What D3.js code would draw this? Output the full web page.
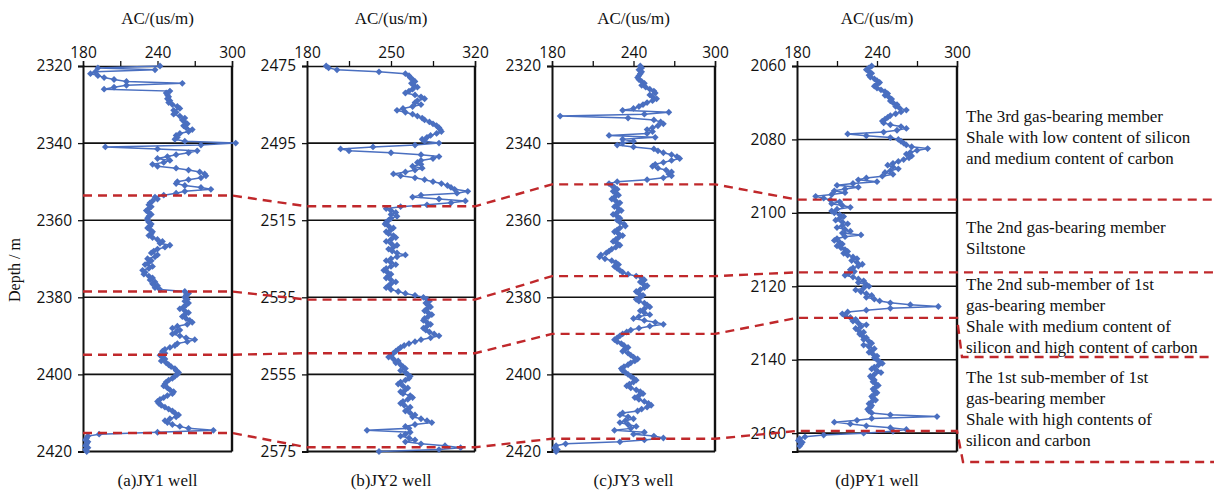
<!DOCTYPE html>
<html><head><meta charset="utf-8">
<script src="https://cdn.jsdelivr.net/npm/d3@7"></script>
<style>html,body{margin:0;padding:0;background:#fff;} svg{display:block}</style>
</head><body><svg id="chart" width="1214" height="491"></svg>
<script>
// ---------------- DATA ----------------
const xTitle = "AC/(us/m)";
const yTitle = "Depth / m";
const wellLabels = ["(a)JY1 well", "(b)JY2 well", "(c)JY3 well", "(d)PY1 well"];
const acDomains = [[180, 300], [180, 320], [180, 300], [180, 300]];
const acTicks = [[180, 210, 240, 270, 300], [180, 215, 250, 285, 320], [180, 210, 240, 270, 300], [180, 210, 240, 270, 300]];
const acTickLabels = [[180, 240, 300], [180, 250, 320], [180, 240, 300], [180, 240, 300]];
const depthDomains = [[2320, 2420], [2475, 2575], [2320, 2420], [2060, 2165]];
const depthTicks = [
  [2320, 2340, 2360, 2380, 2400, 2420],
  [2475, 2495, 2515, 2535, 2555, 2575],
  [2320, 2340, 2360, 2380, 2400, 2420],
  [2060, 2080, 2100, 2120, 2140, 2160]
];
const depthStart = [2320, 2475, 2320, 2060];
const depthStep = 0.5;

const jy1AC = [
 242,192,238,190,186,192,197,205,215,260,215,205,197,250,247,248,249,248,250,249,
 252,256,258,253,255,253,258,262,260,262,264,261,263,268,265,258,255,256,254,262,
 303,275,198,240,272,265,255,248,240,250,245,236,240,255,265,274,278,279,275,265,
 256,255,262,275,283,262,255,245,238,240,236,234,233,235,233,231,233,235,233,232,
 232,233,235,234,232,234,236,235,233,236,240,244,242,250,246,240,237,235,240,238,
 232,235,233,230,236,233,228,230,229,233,236,234,238,236,240,238,242,262,265,263,
 262,264,262,265,263,261,258,262,265,262,260,263,266,268,264,256,252,258,255,252,
 258,263,270,264,256,254,250,246,244,246,242,244,246,243,247,249,251,254,255,257,
 256,254,252,249,247,246,245,248,250,253,252,248,245,242,240,241,243,246,249,252,
 254,257,255,250,246,248,252,258,265,285,240,193,184,183,182,184,183,182,184,182,
 183
];
const jy2AC = [
 196,198,205,240,262,265,266,268,270,267,269,272,268,265,262,270,275,278,272,270,
 275,268,260,255,262,268,272,276,278,282,285,288,290,291,292,288,283,280,276,278,
 290,270,235,208,215,250,275,290,285,275,272,275,268,276,270,262,252,258,270,278,
 285,292,297,300,303,314,305,275,268,290,312,300,280,258,246,250,254,250,255,250,
 248,246,245,248,252,250,246,248,252,254,250,246,250,255,252,248,251,255,262,255,
 250,246,250,254,250,246,244,247,250,248,246,250,254,250,248,246,250,256,262,270,
 277,280,282,279,281,283,280,278,281,284,281,278,277,280,283,280,277,279,282,286,
 290,283,275,270,265,261,258,256,254,252,250,248,252,256,254,258,260,262,258,262,
 264,266,265,262,258,256,260,264,262,258,260,266,268,264,260,258,261,266,264,262,
 266,270,268,275,280,284,270,262,265,230,266,262,258,265,270,262,275,295,308,290,
 240
];
const jy3AC = [
 245,246,244,246,245,244,243,244,246,248,246,249,252,255,256,252,254,257,254,250,
 247,244,240,232,266,248,186,236,255,260,262,258,254,250,254,250,222,256,232,240,
 232,228,240,255,258,262,268,272,274,268,262,256,254,258,264,268,266,268,262,250,
 228,222,224,226,228,225,227,229,226,224,227,230,228,226,229,231,228,225,228,230,
 228,230,233,234,230,228,226,229,232,229,227,225,228,230,227,224,222,220,216,215,
 219,224,227,229,226,228,230,232,236,242,246,248,245,247,250,248,245,242,244,247,
 245,242,244,248,250,252,248,245,248,252,244,240,248,256,262,252,244,238,235,232,
 230,228,226,228,231,233,236,234,232,236,238,240,243,241,238,236,233,231,232,234,
 236,238,240,242,240,237,235,238,242,245,247,244,241,244,248,251,253,250,246,243,
 232,230,236,240,234,230,236,242,238,226,248,240,255,262,248,230,190,183,182,184,
 183
];
const py1AC = [
 236,234,232,234,236,234,235,238,240,242,240,238,240,243,246,248,246,249,251,250,
 252,255,254,257,262,258,254,250,248,246,244,245,250,258,262,255,245,218,232,250,
 256,258,260,262,266,278,270,265,262,266,264,260,256,252,248,252,256,250,246,252,
 244,232,226,240,222,210,226,216,208,216,206,194,200,205,212,206,214,220,210,206,
 208,212,215,212,209,214,218,214,210,216,220,214,228,216,210,208,212,214,210,213,
 216,218,215,218,222,225,221,225,229,226,222,220,223,219,216,222,226,230,226,232,
 234,230,224,228,232,236,232,238,242,250,265,286,250,232,218,214,216,220,224,222,
 226,232,228,224,226,230,227,229,232,230,234,236,230,234,238,236,234,237,240,238,
 240,242,244,241,238,236,240,243,238,235,236,238,237,239,241,239,237,238,240,238,
 236,237,239,236,234,236,235,233,234,236,250,285,236,225,208,220,232,250,262,252,
 230,200,186,182,181,184,183,182
];
const wellAC = [jy1AC, jy2AC, jy3AC, py1AC];

// formation boundary depths in each well
const boundJY1 = [2353.6, 2378.5, 2394.9, 2415.2];
const boundJY2 = [2511.4, 2535.6, 2549.5, 2573.9];
const boundJY3 = [2350.7, 2374.5, 2389.5, 2416.7];
const boundPY1 = [2096.4, 2116.2, 2128.6, 2159.4];
const wellBounds = [boundJY1, boundJY2, boundJY3, boundPY1];

const memberTexts = [
  ["The 3rd gas-bearing member", "Shale with low content of silicon", "and medium content of carbon"],
  ["The 2nd gas-bearing member", "Siltstone"],
  ["The 2nd sub-member of 1st", "gas-bearing member", "Shale with medium content of", "silicon and high content of carbon"],
  ["The 1st sub-member of 1st", "gas-bearing member", "Shale with high contents of", "silicon and carbon"]
];

// ---------------- LAYOUT ----------------
const W = 1214, H = 491;
const panelX = [[83, 232], [307, 475], [552, 715], [797, 957]];
const plotTop = 66, plotBottom = 451.5;
const blue = "#4A6FC0", red = "#C0282B";
const serif = "'Liberation Serif','Times New Roman',serif";
const sans = "'Open Sans','Liberation Sans',sans-serif";
const textBaselines = [[122, 143, 164], [233, 253.5], [289.5, 310.5, 331.5, 352.5], [382.5, 403.5, 424.5, 445.5]];

const svg = d3.select("#chart");
svg.append("rect").attr("width", W).attr("height", H).attr("fill", "#fff");

const scales = panelX.map((px, i) => ({
  x: d3.scaleLinear().domain(acDomains[i]).range(px),
  y: d3.scaleLinear().domain(depthDomains[i]).range([plotTop, plotBottom])
}));

const diamond = "M0,-3.4L3.4,0L0,3.4L-3.4,0Z";

panelX.forEach((px, i) => {
  const {x, y} = scales[i];
  const g = svg.append("g");

  // horizontal grid lines
  g.selectAll(".grid").data(depthTicks[i].filter(t => t > depthDomains[i][0] && t < depthDomains[i][1]))
    .join("line")
    .attr("x1", px[0]).attr("x2", px[1])
    .attr("y1", d => y(d)).attr("y2", d => y(d))
    .attr("stroke", "#111").attr("stroke-width", 1.6);

  // top axis
  const top = d3.axisTop(x).tickValues(acTicks[i]).tickSize(5).tickPadding(2)
    .tickFormat(d => acTickLabels[i].includes(d) ? d : "");
  const ga = g.append("g").attr("transform", `translate(0,${plotTop})`).call(top);
  ga.select(".domain").attr("stroke", "#111").attr("stroke-width", 1.5);
  ga.selectAll(".tick line").attr("stroke", "#111").attr("stroke-width", 1.3);
  ga.selectAll(".tick text").attr("font-family", sans).attr("font-size", 15.5).attr("fill", "#111")
    .attr("y", -8);

  // left axis
  const left = d3.axisLeft(y).tickValues(depthTicks[i]).tickSize(5).tickPadding(6).tickFormat(d3.format("d"));
  const gl = g.append("g").attr("transform", `translate(${px[0]},0)`).call(left);
  gl.select(".domain").attr("stroke", "#111").attr("stroke-width", 2);
  gl.selectAll(".tick line").attr("stroke", "#111").attr("stroke-width", 1.3);
  gl.selectAll(".tick text").attr("font-family", sans).attr("font-size", 15.5).attr("fill", "#111");

  // right and bottom border
  g.append("line").attr("x1", px[1]).attr("x2", px[1]).attr("y1", plotTop).attr("y2", plotBottom)
    .attr("stroke", "#111").attr("stroke-width", 2.4);
  g.append("line").attr("x1", px[0]).attr("x2", px[1]).attr("y1", plotBottom).attr("y2", plotBottom)
    .attr("stroke", "#111").attr("stroke-width", 2);

  // titles
  g.append("text").attr("x", (px[0] + px[1]) / 2).attr("y", 24).attr("text-anchor", "middle")
    .attr("font-family", serif).attr("font-size", 17).attr("fill", "#111").text(xTitle);
  g.append("text").attr("x", (px[0] + px[1]) / 2).attr("y", 486).attr("text-anchor", "middle")
    .attr("font-family", serif).attr("font-size", 17).attr("fill", "#111").text(wellLabels[i]);

  // data
  const pts = wellAC[i].map((v, k) => ({depth: depthStart[i] + k * depthStep, ac: v}));
  const line = d3.line().x(d => x(d.ac)).y(d => y(d.depth));
  g.append("path").datum(pts).attr("d", line).attr("fill", "none")
    .attr("stroke", blue).attr("stroke-width", 1.5);
  g.selectAll(".pt").data(pts).join("path")
    .attr("d", diamond)
    .attr("transform", d => `translate(${x(d.ac)},${y(d.depth)})`)
    .attr("fill", blue);
});

// y title
svg.append("text").attr("transform", "translate(20,270) rotate(-90)").attr("text-anchor", "middle")
  .attr("font-family", serif).attr("font-size", 16).attr("fill", "#111").text(yTitle);

// dashed boundary correlation lines
const extensions = [
  yd => [[W, yd]],
  yd => [[W, yd]],
  yd => [[962, 357], [W, 357]],
  yd => [[963, 462], [W, 462]]
];
for (let b = 0; b < 4; b++) {
  const pts = [];
  panelX.forEach((px, i) => {
    const yy = scales[i].y(wellBounds[i][b]);
    pts.push([px[0], yy], [px[1], yy]);
  });
  const yd = pts[pts.length - 1][1];
  extensions[b](yd).forEach(p => pts.push(p));
  svg.append("path").attr("d", d3.line()(pts)).attr("fill", "none")
    .attr("stroke", red).attr("stroke-width", 2.4).attr("stroke-dasharray", "9,6");
}

// member descriptions
memberTexts.forEach((lines, i) => {
  lines.forEach((t, k) => {
    svg.append("text").attr("x", 966).attr("y", textBaselines[i][k])
      .attr("font-family", serif).attr("font-size", 17).attr("fill", "#111").text(t);
  });
});
</script></body></html>
